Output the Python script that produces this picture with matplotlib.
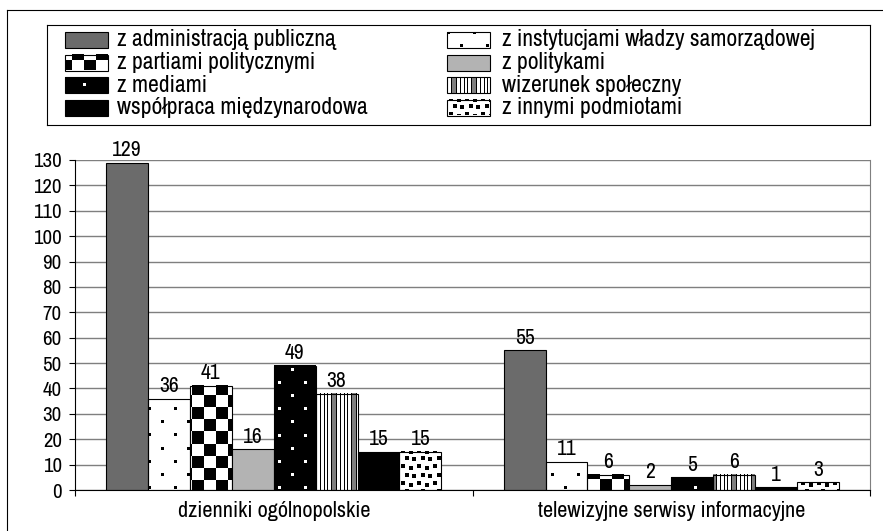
import numpy as np
import matplotlib
matplotlib.use('Agg')
import matplotlib.pyplot as plt
from matplotlib.patches import Rectangle
from matplotlib.lines import Line2D

# ---------------- data ----------------
categories = ['dzienniki ogólnopolskie', 'telewizyjne serwisy informacyjne']
series_names = ['z administracją publiczną', 'z instytucjami władzy samorządowej',
                'z partiami politycznymi', 'z politykami', 'z mediami',
                'wizerunek społeczny', 'współpraca międzynarodowa', 'z innymi podmiotami']
administracja = [129, 55]
instytucje = [36, 11]
partie = [41, 6]
politycy = [16, 2]
media = [49, 5]
wizerunek = [38, 6]
wspolpraca = [15, 1]
inne = [15, 3]
y_ticks = list(range(0, 131, 10))

series_values = [administracja, instytucje, partie, politycy, media, wizerunek, wspolpraca, inne]

plt.rcParams['font.family'] = ['Archivo Narrow', 'Liberation Sans', 'DejaVu Sans']
FS_TICK = 15
FS_BAR = 15.5
FS_CAT = 16
FS_LEG = 17

# ---------------- pattern tiles ----------------
WH = np.array([1.0, 1.0, 1.0])
BK = np.array([0.0, 0.0, 0.0])
GR = np.array([0.5, 0.5, 0.5])


def tile_dots(fg, bg, size=3):
    t = np.zeros((26, 26, 3)); t[:] = bg
    for r, c in [(5, 5), (18, 18)]:
        t[r:r + size, c:c + size] = fg
    return t


def tile_checker():
    t = np.zeros((24, 24, 3)); t[:] = WH
    t[:12, :12] = BK
    t[12:, 12:] = BK
    return t


def tile_stripes():
    cols = [BK, WH, WH, WH, BK, WH, WH, BK, WH, WH, WH, BK, GR, GR, GR, GR, BK, WH, WH, WH]
    t = np.zeros((1, len(cols), 3))
    for i, c in enumerate(cols):
        t[0, i] = c
    return t


def tile_confetti():
    t = np.zeros((16, 16, 3)); t[:] = WH
    for r, c in [(1, 1), (3, 9), (9, 5), (10, 12)]:
        t[r:r + 4, c:c + 4] = BK
    return t


styles = [
    ('solid', '#6b6b6b'),
    ('tile', tile_dots(BK, WH)),
    ('tile', tile_checker()),
    ('solid', '#b3b3b3'),
    ('tile', tile_dots(WH, BK)),
    ('tile', tile_stripes()),
    ('solid', '#000000'),
    ('tile', tile_confetti()),
]


def fill_pattern(ax, patch, tile):
    fig = ax.figure
    H = fig.bbox.height
    bb = patch.get_window_extent()
    w = max(int(round(bb.width)), 1)
    h = max(int(round(bb.height)), 1)
    c0 = int(round(bb.x0))
    rtop = int(round(H - bb.y1))
    th, tw = tile.shape[:2]
    rows = np.arange(rtop, rtop + h) % th
    cols = np.arange(c0, c0 + w) % tw
    img = tile[rows][:, cols]
    x = patch.get_x(); y = patch.get_y()
    pw = patch.get_width(); ph = patch.get_height()
    ax.imshow(img, extent=(x, x + pw, y, y + ph), origin='upper',
              interpolation='nearest', aspect='auto',
              zorder=patch.get_zorder() - 0.1)


# ---------------- figure ----------------
fig = plt.figure(figsize=(8.83, 5.31), dpi=100)
W, Hh = 883, 531

ax = fig.add_axes([75 / W, 41 / Hh, 795 / W, 330 / Hh])
ax.set_xlim(-0.5, len(categories) - 0.5)
ax.set_ylim(0, 130)

n = len(series_values)
bw = 0.843 / n
x = np.arange(len(categories))

for i, vals in enumerate(series_values):
    kind, spec = styles[i]
    xs = x + (i - (n - 1) / 2) * bw
    if kind == 'solid':
        cont = ax.bar(xs, vals, bw, color=spec, edgecolor='black', linewidth=0.8, zorder=3)
    else:
        cont = ax.bar(xs, vals, bw, facecolor='none', edgecolor='black', linewidth=0.8, zorder=3)
        for p in cont.patches:
            fill_pattern(ax, p, spec)
    ax.bar_label(cont, labels=[str(v) for v in vals], padding=2, fontsize=FS_BAR)

ax.set_xlim(-0.5, len(categories) - 0.5)
ax.set_ylim(0, 130)

ax.set_yticks(y_ticks)
ax.set_yticklabels([str(t) for t in y_ticks], fontsize=FS_TICK)
ax.tick_params(axis='y', direction='out', length=4.5, width=0.8, pad=5, colors='black')
ax.set_xticks(x)
ax.set_xticklabels(categories, fontsize=FS_CAT)
ax.tick_params(axis='x', which='major', length=0, pad=8)
ax.set_xticks(np.arange(-0.5, len(categories)), minor=True)
ax.tick_params(axis='x', which='minor', direction='out', length=4, width=0.8)

ax.set_axisbelow(True)
ax.yaxis.grid(True, color='#7f7f7f', linewidth=1.0)
ax.spines['top'].set_visible(False)
ax.spines['right'].set_color('#7f7f7f')
ax.spines['left'].set_color('black')
ax.spines['bottom'].set_color('black')
for s in ['left', 'bottom', 'right']:
    ax.spines[s].set_linewidth(0.8)
ax.spines['bottom'].set_zorder(4)

# ---------------- legend (drawn box) ----------------
lax = fig.add_axes([47 / W, (Hh - 125) / Hh, 823 / W, 100 / Hh])
lax.set_xlim(0, 823)
lax.set_ylim(0, 100)
lax.set_xticks([]); lax.set_yticks([])
for s in lax.spines.values():
    s.set_color('black'); s.set_linewidth(0.8)

row_centers = [85, 62.5, 40, 17.5]
sw_x = [18, 400]
tx_x = [70, 455]
sw_w, sw_h = 43, 16
for i, name in enumerate(series_names):
    r, c = i // 2, i % 2
    yc = row_centers[r]
    kind, spec = styles[i]
    if kind == 'solid':
        rect = Rectangle((sw_x[c], yc - sw_h / 2), sw_w, sw_h, facecolor=spec,
                         edgecolor='black', linewidth=0.8, zorder=3)
        lax.add_patch(rect)
    else:
        rect = Rectangle((sw_x[c], yc - sw_h / 2), sw_w, sw_h, facecolor='none',
                         edgecolor='black', linewidth=0.8, zorder=3)
        lax.add_patch(rect)
        fill_pattern(lax, rect, spec)
    lax.text(tx_x[c], yc, name, fontsize=FS_LEG, va='center', ha='left')
lax.set_xlim(0, 823)
lax.set_ylim(0, 100)

# outer frame (left and top only visible)
fig.add_artist(Line2D([7 / W, 7 / W], [0, (Hh - 10) / Hh], color='black', lw=0.8,
                      transform=fig.transFigure))
fig.add_artist(Line2D([7 / W, 1], [(Hh - 10) / Hh, (Hh - 10) / Hh], color='black', lw=0.8,
                      transform=fig.transFigure))

fig.savefig('out.png', dpi=100)
